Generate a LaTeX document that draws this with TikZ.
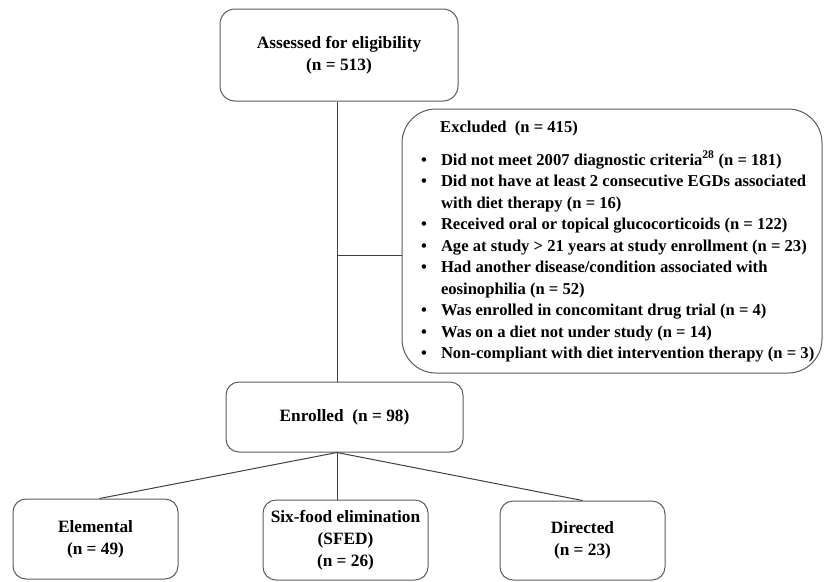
\documentclass[tikz,border=0pt]{standalone}
\usepackage{fontspec}
\setmainfont{Liberation Serif}
\usetikzlibrary{positioning}
\definecolor{edgegray}{HTML}{404040}
\definecolor{framegray}{HTML}{5C5C5C}

\begin{document}
\begin{tikzpicture}[x=1pt, y=-1pt, font=\fontsize{17.3}{22}\selectfont\bfseries,
  stage/.style={draw=framegray, line width=1pt, rounded corners=13pt, align=center, inner sep=0pt, minimum width=#1, fill=white},
  stage/.default=165pt,
  link/.style={draw=edgegray, line width=1pt}]
  \useasboundingbox (0,0) rectangle (824,581);
  \node[stage=238pt, minimum height=92pt, rounded corners=15pt] (assess) at (339,55) {Assessed for eligibility\\(n = 513)};
  \node[stage=420pt, minimum height=264pt, rounded corners=34pt] (excl) at (612,241) {};
  \node[anchor=north west, inner sep=0pt, font=\fontsize{16.6}{21.5}\selectfont\bfseries] (exlist) at (421,117) {%
    \begin{tabular}{@{}l@{\hspace{14pt}}l@{}}
      \multicolumn{2}{@{\hspace{19pt}}l@{}}{Excluded\ \ (n = 415)}\\[11.5pt]
      \textbullet & Did not meet 2007 diagnostic criteria\textsuperscript{28} (n = 181)\\
      \textbullet & Did not have at least 2 consecutive EGDs associated\\
                  & with diet therapy (n = 16)\\
      \textbullet & Received oral or topical glucocorticoids (n = 122)\\
      \textbullet & Age at study > 21 years at study enrollment (n = 23)\\
      \textbullet & Had another disease/condition associated with\\
                  & eosinophilia (n = 52)\\
      \textbullet & Was enrolled in concomitant drug trial (n = 4)\\
      \textbullet & Was on a diet not under study (n = 14)\\
      \textbullet & Non-compliant with diet intervention therapy (n = 3)
    \end{tabular}};
  \node[stage=237pt, minimum height=70pt] (enrol) at (344.5,417) {Enrolled\ \ (n = 98)};
  \node[stage, minimum height=80pt] (elem) at (95.5,539) {Elemental\\(n = 49)};
  \node[stage, minimum height=80pt] (sfed) at (345.5,540) {Six-food elimination\\(SFED)\\(n = 26)};
  \node[stage, minimum height=79pt] (direct) at (582.5,540.5) {Directed\\(n = 23)};
  % edges
  \coordinate (split) at (337,255);
  \draw[link] (assess.south -| split) -- (split |- enrol.north);
  \draw[link] (split) -- (split -| excl.west);
  \coordinate (fork) at (enrol.south -| split);
  \draw[link] (fork) -- ([xshift=4pt]elem.north);
  \draw[link] (fork) -- (fork |- sfed.north);
  \draw[link] (fork) -- (direct.north);
\end{tikzpicture}
\end{document}
